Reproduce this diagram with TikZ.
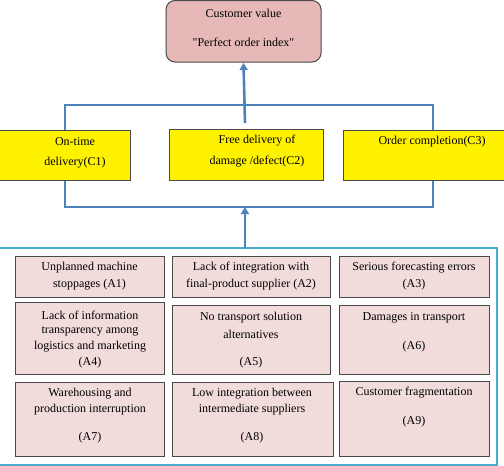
\documentclass[tikz,border=0pt]{standalone}
\usepackage{fontspec}
\setmainfont{Liberation Serif}[Ligatures=TeXOff]
\usetikzlibrary{arrows.meta}
\definecolor{topfill}{HTML}{E6B9B8}
\definecolor{cellfill}{HTML}{F2DCDB}
\definecolor{linkblue}{HTML}{4F81BD}
\definecolor{framecol}{HTML}{4BACC6}
\definecolor{edge}{HTML}{4A4A4A}
\begin{document}
\begin{tikzpicture}[x=1pt,y=-1pt,
  txt/.style={inner sep=0pt,font=\fontsize{12}{14}\selectfont},
  cell/.style={draw=edge,line width=1pt,fill=cellfill},
  crit/.style={draw=edge,line width=1pt,fill=yellow},
  link/.style={draw=linkblue,line width=2.6pt},
  arr/.style={link,-{Triangle[length=7pt,width=8pt]}}]
\useasboundingbox (0,0) rectangle (504,466);
% top box
\draw[draw=edge,line width=1pt,fill=topfill,rounded corners=9pt] (166,0.5) rectangle (321,62);
\node (top) at (243.5,31) {};
\node[txt] (t1) at (243.5,13) {Customer value};
\node[txt] (t2) at (243.5,42) {"Perfect order index"};
% criteria boxes
\node[crit,minimum width=135pt,minimum height=50pt,inner sep=0pt] (c1) at (63,155) {};
\node[crit,minimum width=154pt,minimum height=51pt,inner sep=0pt] (c2) at (246,154.5) {};
\node[crit,minimum width=162pt,minimum height=50pt,inner sep=0pt] (c3) at (424,155) {};
\node[txt] (c1a) at (75,142) {On-time};
\node[txt] (c1b) at (75,163) {delivery(C1)};
\node[txt] (c2a) at (257,141) {Free delivery of};
\node[txt] (c2b) at (257,162) {damage /defect(C2)};
\node[txt] (c3a) at (432,142) {Order completion(C3)};
% connectors top
\coordinate (tl) at (65,105);
\coordinate (tr) at (433,105);
\coordinate (tm) at (245,105);
\coordinate (tmup) at (245,123);
\draw[link] (c1.north -| tl) -- (tl) -- (tr) -- (c3.north -| tr);
\draw[arr] (tmup) -- (top.south |- 0,63);
% connectors bottom
\coordinate (bl) at (65,207);
\coordinate (br) at (433,207);
\coordinate (bm) at (245,207);
\draw[link] (c1.south -| bl) -- (bl) -- (br) -- (c3.south -| br);
% bottom frame
\draw[draw=framecol,line width=2pt] (-3,248) rectangle (497,465);
\node (frame) at (247,248) {};
\draw[arr] (245,248) -- (bm);
% cells
\node[cell,minimum width=149pt,minimum height=41pt,inner sep=0pt] (a1) at (89.5,276.5) {};
\node[cell,minimum width=158pt,minimum height=41pt,inner sep=0pt] (a2) at (251,276.5) {};
\node[cell,minimum width=150pt,minimum height=41pt,inner sep=0pt] (a3) at (414,276.5) {};
\node[cell,minimum width=149pt,minimum height=72pt,inner sep=0pt] (a4) at (90,338) {};
\node[cell,minimum width=158pt,minimum height=69pt,inner sep=0pt] (a5) at (251,339.5) {};
\node[cell,minimum width=150pt,minimum height=69pt,inner sep=0pt] (a6) at (414,339.5) {};
\node[cell,minimum width=149pt,minimum height=74pt,inner sep=0pt] (a7) at (90,419) {};
\node[cell,minimum width=161pt,minimum height=74pt,inner sep=0pt] (a8) at (252.5,419) {};
\node[cell,minimum width=150pt,minimum height=75pt,inner sep=0pt] (a9) at (414,418.5) {};
% cell texts
\node[txt] (a1a) at (89.5,268) {Unplanned machine};
\node[txt] (a1b) at (89.5,285) {stoppages (A1)};
\node[txt] (a2a) at (251,268) {Lack of integration with};
\node[txt] (a2b) at (251,285) {final-product supplier (A2)};
\node[txt] (a3a) at (414,268) {Serious forecasting errors};
\node[txt] (a3b) at (414,285) {(A3)};
\node[txt] (a4a) at (90,315) {Lack of information};
\node[txt] (a4b) at (90,331) {transparency among};
\node[txt] (a4c) at (90,347) {logistics and marketing};
\node[txt] (a4d) at (90,363) {(A4)};
\node[txt] (a5a) at (251,318) {No transport solution};
\node[txt] (a5b) at (251,334) {alternatives};
\node[txt] (a5c) at (251,363) {(A5)};
\node[txt] (a6a) at (414,318) {Damages in transport};
\node[txt] (a6b) at (414,347) {(A6)};
\node[txt] (a7a) at (90,394) {Warehousing and};
\node[txt] (a7b) at (90,410) {production interruption};
\node[txt] (a7c) at (90,438) {(A7)};
\node[txt] (a8a) at (252,394) {Low integration between};
\node[txt] (a8b) at (252,410) {intermediate suppliers};
\node[txt] (a8c) at (252,438) {(A8)};
\node[txt] (a9a) at (414,393) {Customer fragmentation};
\node[txt] (a9b) at (414,422) {(A9)};
\end{tikzpicture}
\end{document}
